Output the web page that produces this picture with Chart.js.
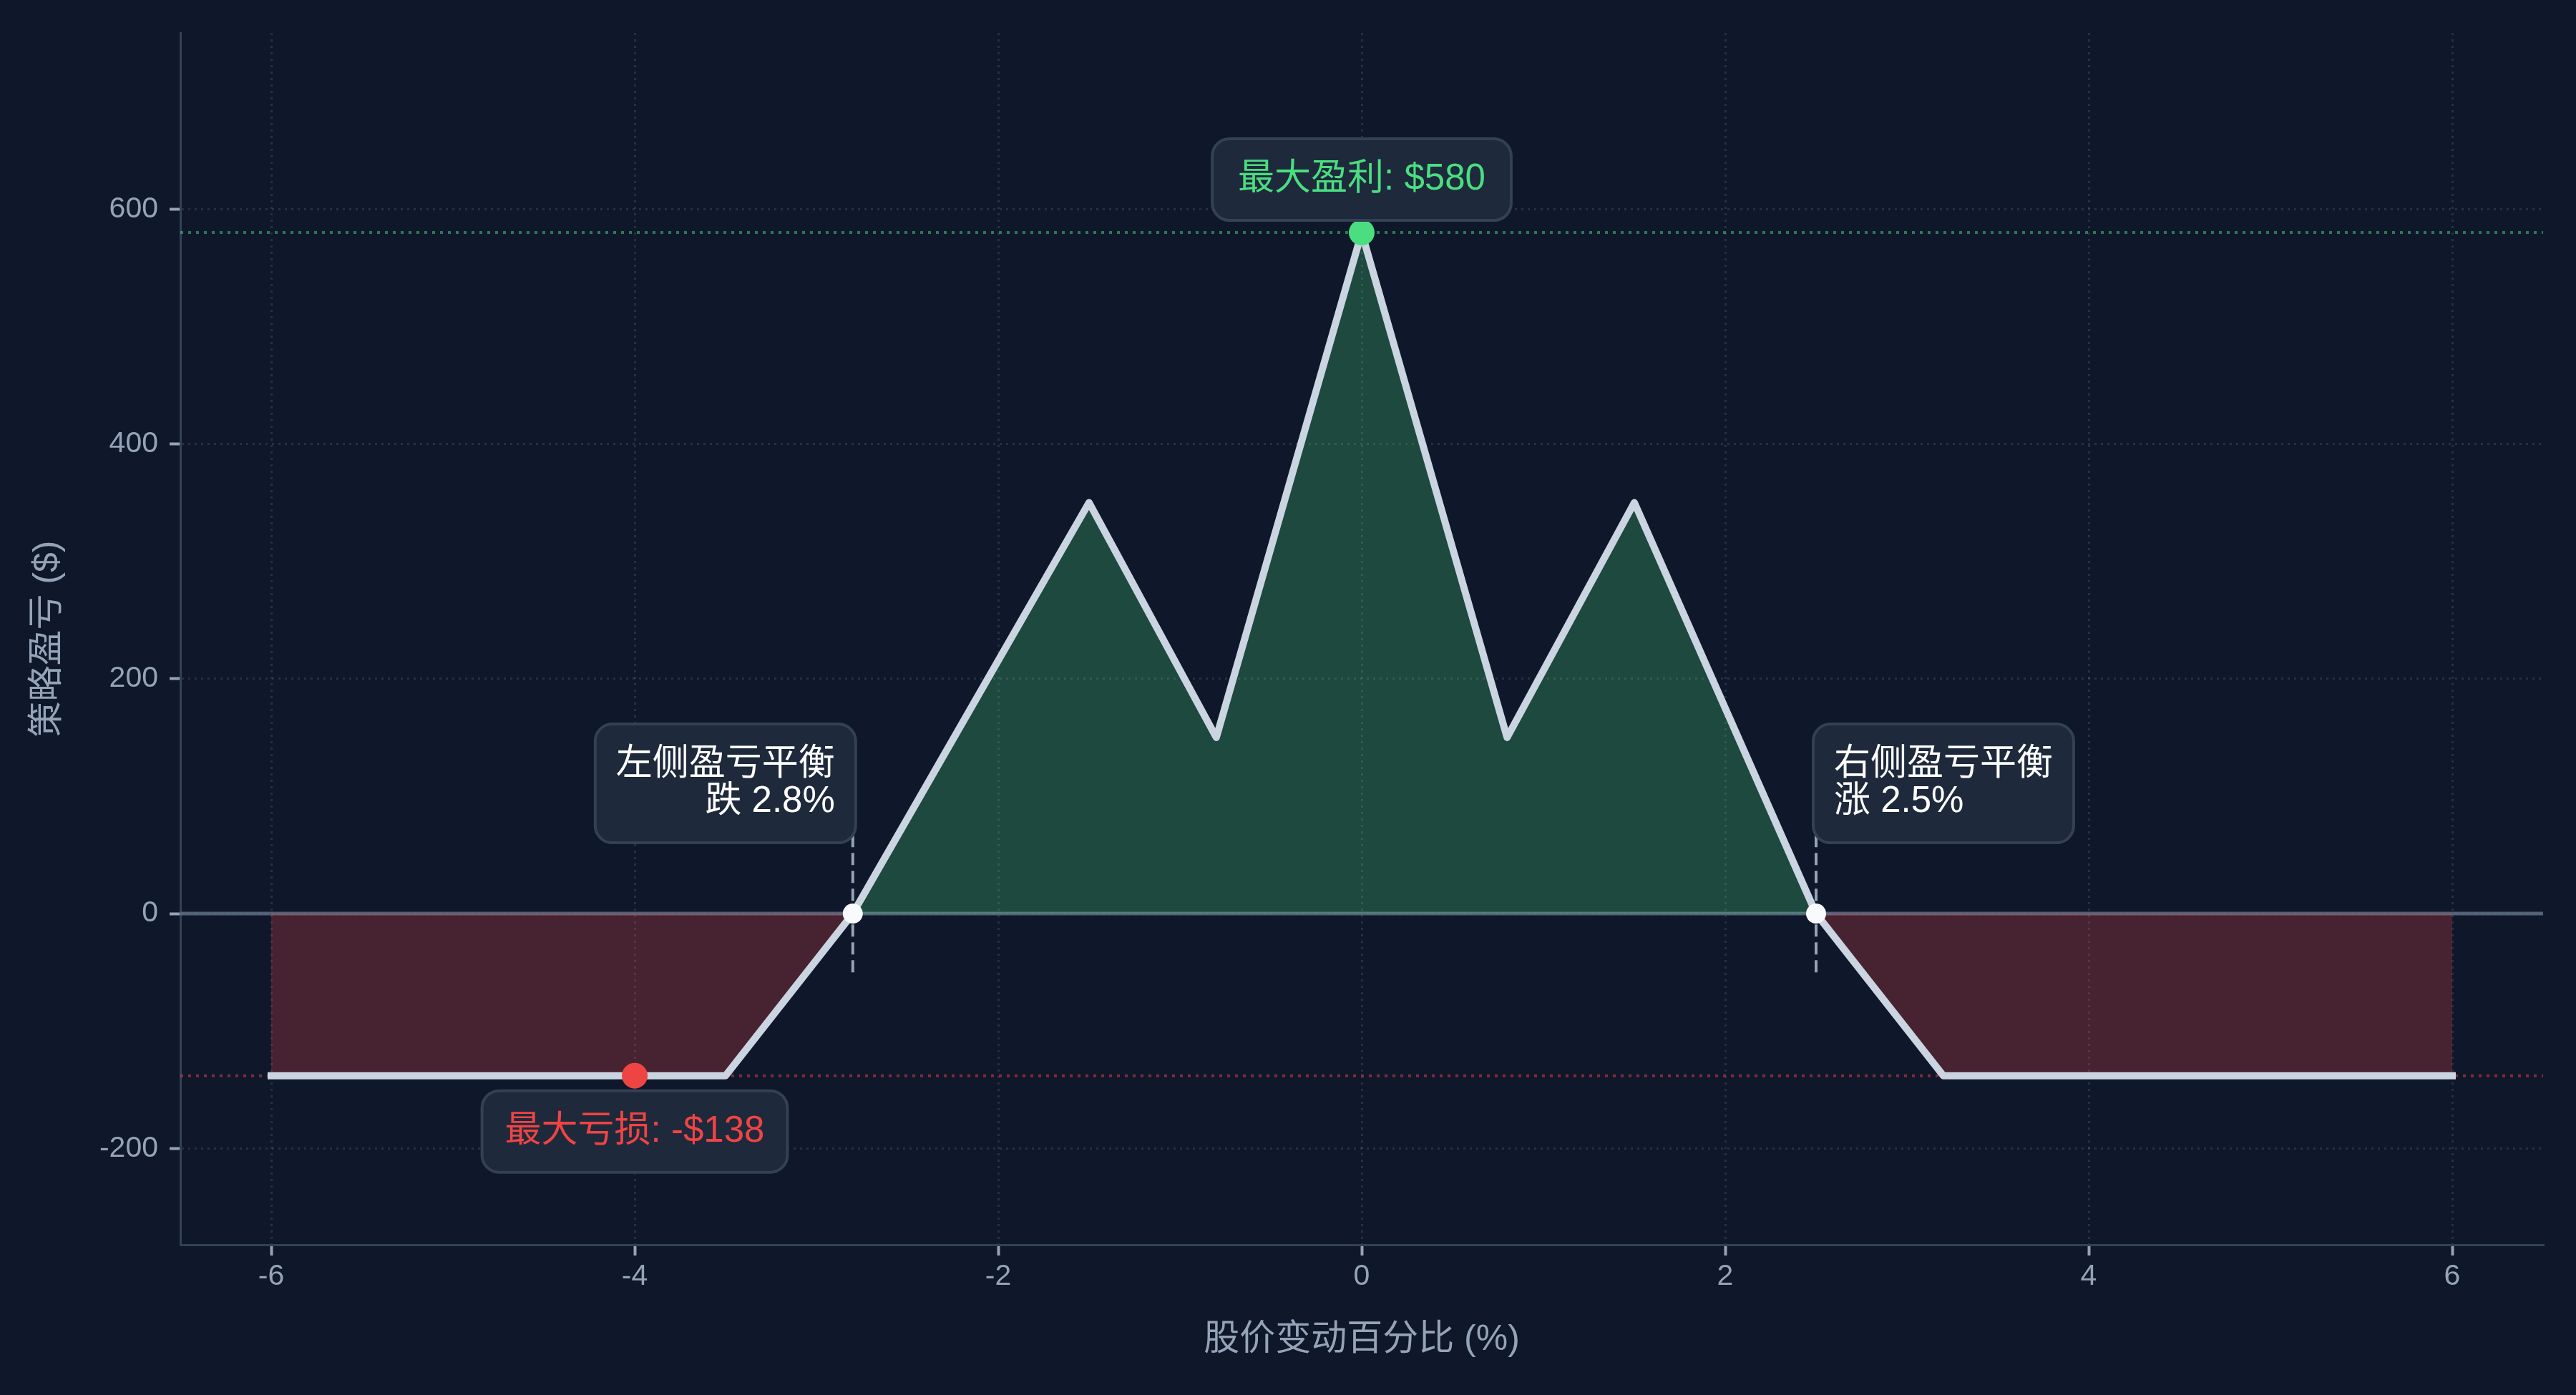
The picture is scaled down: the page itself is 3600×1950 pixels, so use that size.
<!DOCTYPE html>
<html>
<head>
<meta charset="utf-8">
<script src="https://cdn.jsdelivr.net/npm/chart.js@4.4.1/dist/chart.umd.min.js"></script>
<style>
html, body { margin: 0; padding: 0; background: #0f172a; }
#wrap { width: 3600px; height: 1950px; }
</style>
</head>
<body>
<div id="wrap"><canvas id="pnl-chart" width="3600" height="1950"></canvas></div>
<script>
// payoff curve of the strategy
const priceMoves = [-6, -3.5, -2.8, -1.5, -0.8, 0, 0.8, 1.5, 2.5, 3.2, 6];
const pnlValues = [-138, -138, 0, 350, 150, 580, 150, 350, 0, -138, -138];

const breakevens = [-2.8, 2.5];
const breakevenLabels = [['左侧盈亏平衡', '跌 2.8%'], ['右侧盈亏平衡', '涨 2.5%']];
const maxLossAt = -4;

const xTicks = [-6, -4, -2, 0, 2, 4, 6];
const yTicks = [-200, 0, 200, 400, 600];
const xRange = [-6.5, 6.5];
const yRange = [-282, 750];

const maxProfit = Math.max(...pnlValues);
const maxLoss = Math.min(...pnlValues);
const maxProfitAt = priceMoves[pnlValues.indexOf(maxProfit)];

const FONT = '"Liberation Sans", "Noto Sans CJK SC", sans-serif';

const payoff = priceMoves.map((x, i) => ({ x: x, y: pnlValues[i] }));

// background
const bgPlugin = {
    id: 'bg',
    beforeDraw(c) {
        const ctx = c.ctx;
        ctx.save();
        ctx.fillStyle = '#0f172a';
        ctx.fillRect(0, 0, c.width, c.height);
        ctx.restore();
    }
};

// boxed labels
const labelPlugin = {
    id: 'labels',
    afterDatasetsDraw(c) {
        const ctx = c.ctx;
        const xs = c.scales.x, ys = c.scales.y;
        const padY = 31, lineH = 52;
        ctx.save();
        ctx.font = '51px ' + FONT;
        ctx.textBaseline = 'middle';

        function box(lines, color, align, padX, place) {
            const tw = Math.max(...lines.map(t => ctx.measureText(t).width));
            const w = tw + padX * 2;
            const h = lines.length * lineH + padY * 2;
            const p = place(w, h);
            ctx.beginPath();
            ctx.roundRect(p.left, p.top, w, h, 24);
            ctx.fillStyle = '#1e293b';
            ctx.fill();
            ctx.lineWidth = 4;
            ctx.strokeStyle = '#334155';
            ctx.stroke();
            ctx.fillStyle = color;
            ctx.textAlign = align;
            let tx = p.left + w / 2;
            if (align === 'left') tx = p.left + padX;
            if (align === 'right') tx = p.left + w - padX;
            lines.forEach((t, i) => {
                ctx.fillText(t, tx, p.top + padY + lineH * (i + 0.5));
            });
        }

        const pxTop = xs.getPixelForValue(maxProfitAt);
        const pyTop = ys.getPixelForValue(maxProfit);
        box(['最大盈利: $' + maxProfit], '#4ade80', 'center', 36,
            (w, h) => ({ left: pxTop - w / 2, top: pyTop - 17 - h }));

        const pxLow = xs.getPixelForValue(maxLossAt);
        const pyLow = ys.getPixelForValue(maxLoss);
        box(['最大亏损: -$' + Math.abs(maxLoss)], '#ef4444', 'center', 32,
            (w, h) => ({ left: pxLow - w / 2, top: pyLow + 21 }));

        const py0 = ys.getPixelForValue(0);
        const pxL = xs.getPixelForValue(breakevens[0]);
        box(breakevenLabels[0], '#ffffff', 'right', 29,
            (w, h) => ({ left: pxL + 4 - w, top: py0 - 99 - h }));
        const pxR = xs.getPixelForValue(breakevens[1]);
        box(breakevenLabels[1], '#ffffff', 'left', 29,
            (w, h) => ({ left: pxR - 4, top: py0 - 99 - h }));

        ctx.restore();
    }
};

const datasets = [];

// zero line
datasets.push({
    data: [{ x: xRange[0], y: 0 }, { x: xRange[1], y: 0 }],
    borderColor: 'rgba(100,116,139,0.8)', borderWidth: 5,
    pointRadius: 0, fill: false, order: 20
});
// max profit / max loss guides
datasets.push({
    data: [{ x: xRange[0], y: maxProfit }, { x: xRange[1], y: maxProfit }],
    borderColor: 'rgba(74,222,128,0.5)', borderWidth: 4, borderDash: [4, 7],
    pointRadius: 0, fill: false, order: 19
});
datasets.push({
    data: [{ x: xRange[0], y: maxLoss }, { x: xRange[1], y: maxLoss }],
    borderColor: 'rgba(239,68,68,0.5)', borderWidth: 4, borderDash: [4, 7],
    pointRadius: 0, fill: false, order: 18
});
// payoff curve
datasets.push({
    data: payoff,
    borderColor: '#cbd5e1', borderWidth: 10,
    borderJoinStyle: 'round', borderCapStyle: 'square',
    pointRadius: 0, tension: 0,
    fill: { target: 'origin', above: 'rgba(74,222,128,0.25)', below: 'rgba(239,68,68,0.25)' },
    order: 10
});
// breakeven dashed marks
breakevens.forEach(b => {
    datasets.push({
        data: [{ x: b, y: -50 }, { x: b, y: 80 }],
        borderColor: '#94a3b8', borderWidth: 4, borderDash: [17, 8],
        pointRadius: 0, fill: false, order: 5
    });
});
// points
datasets.push({
    data: breakevens.map(b => ({ x: b, y: 0 })),
    showLine: false, pointRadius: 14, pointBackgroundColor: '#f8fafc',
    pointBorderWidth: 0, fill: false, order: 2
});
datasets.push({
    data: [{ x: maxProfitAt, y: maxProfit }],
    showLine: false, pointRadius: 18, pointBackgroundColor: '#4ade80',
    pointBorderWidth: 0, fill: false, order: 1
});
datasets.push({
    data: [{ x: maxLossAt, y: maxLoss }],
    showLine: false, pointRadius: 18, pointBackgroundColor: '#ef4444',
    pointBorderWidth: 0, fill: false, order: 1
});

const gridOpts = {
    color: 'rgba(148,163,184,0.18)',
    lineWidth: 3,
    tickColor: '#94a3b8',
    tickWidth: 4,
    tickLength: 15,
    tickBorderDash: []
};

new Chart(document.getElementById('pnl-chart'), {
    type: 'line',
    data: { datasets: datasets },
    options: {
        responsive: false,
        devicePixelRatio: 1,
        animation: false,
        layout: { padding: { left: 0, top: 46, right: 46, bottom: 0 } },
        plugins: {
            legend: { display: false },
            tooltip: { enabled: false }
        },
        scales: {
            x: {
                type: 'linear',
                min: xRange[0], max: xRange[1],
                afterBuildTicks: s => { s.ticks = xTicks.map(v => ({ value: v })); },
                afterFit: s => { s.height = 210; },
                ticks: {
                    color: '#94a3b8', padding: 5,
                    font: { size: 41, family: FONT },
                    callback: v => String(v),
                    autoSkip: false, maxRotation: 0
                },
                grid: gridOpts,
                border: { color: '#334155', width: 3, dash: [3, 6] },
                title: {
                    display: true, text: '股价变动百分比 (%)',
                    color: '#94a3b8', font: { size: 50, family: FONT },
                    padding: { top: 0, bottom: 47 }
                }
            },
            y: {
                type: 'linear',
                min: yRange[0], max: yRange[1],
                afterBuildTicks: s => { s.ticks = yTicks.map(v => ({ value: v })); },
                afterFit: s => { s.width = 252; },
                ticks: {
                    color: '#94a3b8', padding: 16,
                    font: { size: 41, family: FONT },
                    callback: v => String(v),
                    autoSkip: false
                },
                grid: gridOpts,
                border: { color: '#334155', width: 3, dash: [3, 6] },
                title: {
                    display: true, text: '策略盈亏 ($)',
                    color: '#94a3b8', font: { size: 50, family: FONT },
                    padding: { top: 37, bottom: 0 }
                }
            }
        }
    },
    plugins: [bgPlugin, labelPlugin]
});
</script>
</body>
</html>
